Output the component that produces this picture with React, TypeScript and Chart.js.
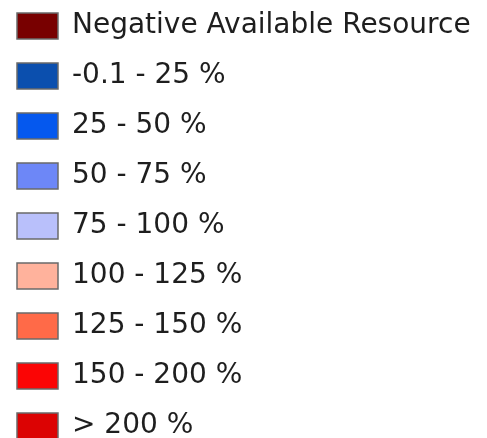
import React, { useEffect, useRef } from "react";
import { Chart, registerables } from "chart.js";

Chart.register(...registerables);

const legendLabels = [
  "Negative Available Resource",
  "-0.1 - 25 %",
  "25 - 50 %",
  "50 - 75 %",
  "75 - 100 %",
  "100 - 125 %",
  "125 - 150 %",
  "150 - 200 %",
  "> 200 %",
];

const legendColors = [
  "#780000",
  "#0b4fae",
  "#0558ee",
  "#6d87f7",
  "#b9c0fb",
  "#ffb29c",
  "#ff6a48",
  "#fb0505",
  "#dc0303",
];

const swatchBorder = "#6a6a6a";

export default function App() {
  const ref = useRef<HTMLCanvasElement | null>(null);

  useEffect(() => {
    if (!ref.current) return;
    const chart = new Chart(ref.current, {
      type: "bar",
      data: {
        labels: [],
        datasets: legendLabels.map((label, i) => ({
          label,
          data: [],
          backgroundColor: legendColors[i],
          borderColor: swatchBorder,
          borderWidth: 1.5,
        })),
      },
      options: {
        responsive: false,
        animation: false,
        events: [],
        layout: { padding: 0 },
        scales: {
          x: { display: false },
          y: { display: false },
        },
        plugins: {
          tooltip: { enabled: false },
          legend: {
            display: true,
            position: "left",
            align: "start",
            labels: {
              boxWidth: 41,
              boxHeight: 26,
              padding: 22,
              color: "#1e1e1e",
              font: { family: "'DejaVu Sans', Tahoma, Verdana, sans-serif", size: 28 },
            },
          },
        },
      },
    });
    return () => chart.destroy();
  }, []);

  return (
    <div
      style={{
        position: "fixed",
        left: -5,
        top: -10,
        width: 1200,
        height: 490,
        background: "#ffffff",
        overflow: "hidden",
      }}
    >
      <canvas ref={ref} width={1200} height={490} style={{ display: "block" }} />
    </div>
  );
}
